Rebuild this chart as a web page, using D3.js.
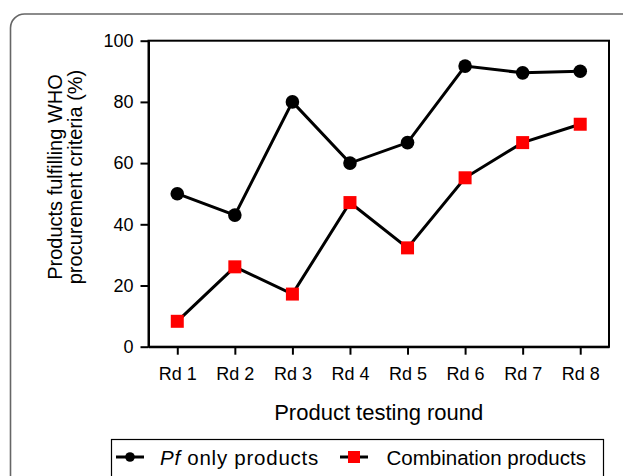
<!DOCTYPE html>
<html>
<head>
<meta charset="utf-8">
<script src="https://d3js.org/d3.v7.min.js"></script>
<style>
body { margin: 0; background: #fff; }
svg { display: block; }
text { font-family: "Liberation Sans", Arial, sans-serif; fill: #000; }
.axis path, .axis line { stroke: #000; stroke-width: 2px; }
.axis text { font-size: 18px; }
</style>
</head>
<body>
<div id="chart"></div>
<script>
// values
var rounds = ["Rd 1", "Rd 2", "Rd 3", "Rd 4", "Rd 5", "Rd 6", "Rd 7", "Rd 8"];
var pfOnly = [50, 43, 80, 60, 66.7, 91.7, 89.5, 90];
var combination = [8.3, 26.1, 17.2, 47.1, 32.3, 55.2, 66.7, 72.7];
var yTicks = [0, 20, 40, 60, 80, 100];

var W = 623, H = 476;
var margin = { top: 40.7, right: 14, bottom: 129.3, left: 148.5 };
var width = W - margin.left - margin.right,
    height = H - margin.top - margin.bottom;

var svg = d3.select("#chart").append("svg")
  .attr("width", W)
  .attr("height", H);

// rounded outer frame (only top and left sides show)
svg.append("rect")
  .attr("x", 10.5).attr("y", 14)
  .attr("width", 700).attr("height", 600)
  .attr("rx", 14).attr("ry", 14)
  .attr("fill", "none")
  .attr("stroke", "#666")
  .attr("stroke-width", 1.6);

var g = svg.append("g")
  .attr("transform", "translate(" + margin.left + "," + margin.top + ")");

var x = d3.scalePoint().domain(rounds).range([0, width]).padding(0.5);
var y = d3.scaleLinear().domain([0, 100]).range([height, 0]);

// plot box
g.append("rect")
  .attr("width", width).attr("height", height)
  .attr("fill", "none")
  .attr("stroke", "#000")
  .attr("stroke-width", 2);

g.append("g")
  .attr("class", "axis")
  .call(d3.axisLeft(y).tickValues(yTicks).tickSize(8).tickSizeOuter(0).tickPadding(7));

g.append("g")
  .attr("class", "axis")
  .attr("transform", "translate(0," + height + ")")
  .call(d3.axisBottom(x).tickSize(8).tickSizeOuter(0).tickPadding(8))
  .selectAll("text").attr("dy", "0.95em");

var line = d3.line()
  .x(function(d, i) { return x(rounds[i]); })
  .y(function(d) { return y(d); });

g.append("path")
  .datum(pfOnly)
  .attr("d", line)
  .attr("fill", "none")
  .attr("stroke", "#000")
  .attr("stroke-width", 3);

g.append("path")
  .datum(combination)
  .attr("d", line)
  .attr("fill", "none")
  .attr("stroke", "#000")
  .attr("stroke-width", 3);

g.selectAll(".pf")
  .data(pfOnly)
  .enter().append("circle")
  .attr("class", "pf")
  .attr("cx", function(d, i) { return x(rounds[i]); })
  .attr("cy", function(d) { return y(d); })
  .attr("r", 6.8)
  .attr("fill", "#000");

var sq = 13;
g.selectAll(".combo")
  .data(combination)
  .enter().append("rect")
  .attr("class", "combo")
  .attr("x", function(d, i) { return x(rounds[i]) - sq / 2; })
  .attr("y", function(d) { return y(d) - sq / 2; })
  .attr("width", sq).attr("height", sq)
  .attr("fill", "#ff0000");

// axis titles
svg.append("text")
  .attr("x", margin.left + width / 2)
  .attr("y", 420)
  .attr("text-anchor", "middle")
  .attr("font-size", 22)
  .text("Product testing round");

var yt = svg.append("text")
  .attr("transform", "translate(62,177) rotate(-90)")
  .attr("text-anchor", "middle")
  .attr("font-size", 20);
yt.append("tspan").attr("x", 0).attr("y", 0).text("Products fulfilling WHO");
yt.append("tspan").attr("x", 0).attr("y", 20).text("procurement criteria (%)");

// legend
var leg = svg.append("g");
leg.append("rect")
  .attr("x", 111.5).attr("y", 439.5)
  .attr("width", 492).attr("height", 60)
  .attr("fill", "none")
  .attr("stroke", "#000")
  .attr("stroke-width", 1.2);

var ly = 457;
leg.append("line")
  .attr("x1", 116).attr("x2", 144).attr("y1", ly).attr("y2", ly)
  .attr("stroke", "#000").attr("stroke-width", 3);
leg.append("circle")
  .attr("cx", 130).attr("cy", ly).attr("r", 4.8).attr("fill", "#000");
var t1 = leg.append("text")
  .attr("x", 160).attr("y", ly + 7.5)
  .attr("font-size", 20.5)
  .attr("letter-spacing", 0.75);
t1.append("tspan").attr("font-style", "italic").text("Pf");
t1.append("tspan").text(" only products");

leg.append("line")
  .attr("x1", 340).attr("x2", 368).attr("y1", ly).attr("y2", ly)
  .attr("stroke", "#000").attr("stroke-width", 3);
leg.append("rect")
  .attr("x", 354 - 6).attr("y", ly - 6)
  .attr("width", 12).attr("height", 12)
  .attr("fill", "#ff0000");
leg.append("text")
  .attr("x", 386.5).attr("y", ly + 7.5)
  .attr("font-size", 20.5)
  .text("Combination products");
</script>
</body>
</html>
